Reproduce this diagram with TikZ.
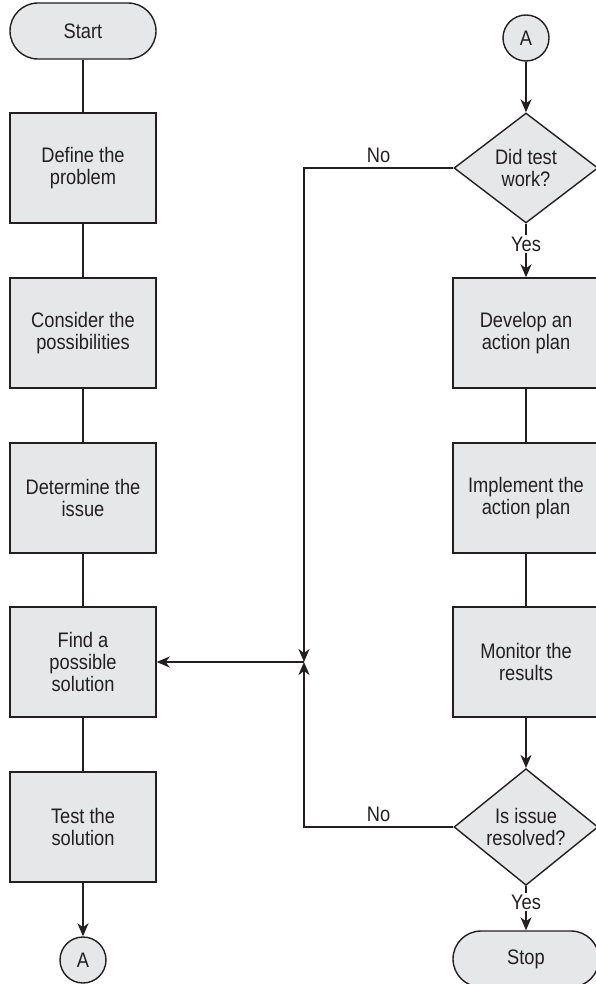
\documentclass[tikz,border=0pt]{standalone}
\usepackage{fontspec}
\setmainfont[FakeStretch=0.87]{Liberation Sans}
\usetikzlibrary{shapes.geometric,arrows.meta}
\definecolor{lc}{HTML}{231F20}
\definecolor{fc}{HTML}{E6E7E8}
\begin{document}
\begin{tikzpicture}[x=1pt,y=-1pt,
  every node/.style={font=\fontsize{21}{22}\selectfont, text=lc},
  proc/.style={draw=lc, fill=fc, line width=1.4pt, minimum width=146pt, minimum height=110pt, align=center, inner sep=0pt},
  term/.style={proc, minimum height=56pt, rounded corners=28pt},
  conn/.style={circle, draw=lc, fill=fc, line width=1.4pt, minimum size=46pt, inner sep=0pt},
  dec/.style={diamond, draw=lc, fill=fc, line width=1.4pt, minimum width=144pt, minimum height=110pt, inner sep=0pt, align=center},
  ln/.style={draw=lc, line width=1.7pt},
  arr/.style={ln, -{Stealth[length=13pt,width=11pt,inset=4pt]}},
  lbl/.style={fill=white, inner sep=1.5pt}
]
\useasboundingbox (0,0) rectangle (595,984);
% left column
\node[term] (start) at (83,31) {Start};
\node[proc] (define) at (83,168) {Define the\\problem};
\node[proc] (consider) at (83,333) {Consider the\\possibilities};
\node[proc] (determine) at (83,498) {Determine the\\issue};
\node[proc] (find) at (83,662) {Find a\\possible\\solution};
\node[proc] (test) at (83,827) {Test the\\solution};
\node[conn] (a1) at (83,960) {A};
% right column
\node[conn] (a2) at (526,38) {A};
\node[dec] (d1) at (526,168) {Did test\\work?};
\node[proc] (develop) at (526,333) {Develop an\\action plan};
\node[proc] (implement) at (526,498) {Implement the\\action plan};
\node[proc] (monitor) at (526,662) {Monitor the\\results};
\node[dec] (d2) at (526,827) {Is issue\\resolved?};
\node[term] (stop) at (526,959) {Stop};
\coordinate (m) at (304,662);
% connectors
\draw[ln] (start) -- (define);
\draw[ln] (define) -- (consider);
\draw[ln] (consider) -- (determine);
\draw[ln] (determine) -- (find);
\draw[ln] (find) -- (test);
\draw[arr] (test) -- (a1);
\draw[arr] (a2) -- (d1);
\draw[arr] (d1) -- node[lbl, pos=0.38] {Yes} (develop);
\draw[ln] (develop) -- (implement);
\draw[ln] (implement) -- (monitor);
\draw[arr] (monitor) -- (d2);
\draw[arr] (d2) -- node[lbl, pos=0.36] {Yes} (stop);
\draw[arr] (d1.west) -| node[pos=0.25, above, inner sep=4pt] {No} (m);
\draw[arr] (d2.west) -| node[pos=0.25, above, inner sep=4pt] {No} (m);
\draw[arr] (m) -- (find.east);
\end{tikzpicture}
\end{document}
